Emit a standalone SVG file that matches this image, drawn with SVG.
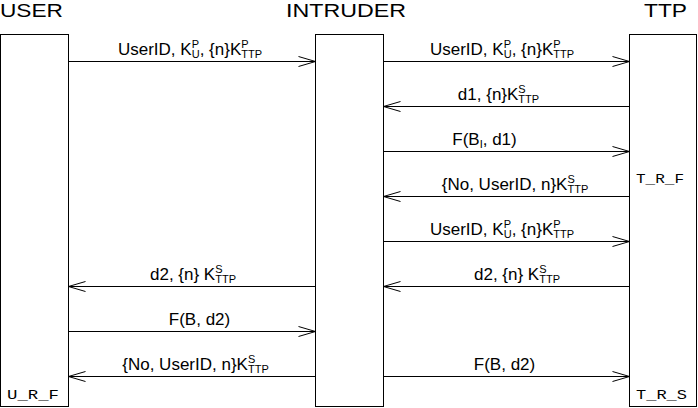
<svg xmlns="http://www.w3.org/2000/svg" width="698" height="408" viewBox="0 0 698 408">
<style>
.box{fill:#fff;stroke:#000;stroke-width:1}
.title{font-family:"Liberation Sans",Arial,sans-serif;font-size:18.5px;fill:#000}
.lbl{font-family:"Liberation Sans",Arial,sans-serif;font-size:17px;fill:#000;text-anchor:middle}
.s{font-size:11px}
.mono{font-family:"Liberation Mono","Courier New",monospace;font-size:12px;fill:#000}
.msg{stroke:#000;stroke-width:1;fill:none;marker-end:url(#ah)}
</style>
<defs>
<marker id="ah" markerUnits="userSpaceOnUse" markerWidth="20" markerHeight="12" refX="17" refY="6" orient="auto" overflow="visible">
<path d="M0,1 L17,6 L0,11" fill="none" stroke="#000" stroke-width="1"/>
</marker>
</defs>
<rect width="698" height="408" fill="#fff"/>
<g id="user">
<text class="title" x="0" y="17" textLength="63" lengthAdjust="spacingAndGlyphs">USER</text>
<rect class="box" x="0.5" y="34.5" width="68" height="372"/>
<text class="mono" x="7" y="399" textLength="52" lengthAdjust="spacingAndGlyphs">U_R_F</text>
</g>
<g id="intruder">
<text class="title" x="286" y="17" textLength="120" lengthAdjust="spacingAndGlyphs">INTRUDER</text>
<rect class="box" x="315.5" y="34.5" width="68" height="372"/>
</g>
<g id="ttp">
<text class="title" x="644" y="17" textLength="43" lengthAdjust="spacingAndGlyphs">TTP</text>
<rect class="box" x="629.5" y="34.5" width="67" height="372"/>
<text class="mono" x="636" y="183" textLength="48" lengthAdjust="spacingAndGlyphs">T_R_F</text>
<text class="mono" x="636" y="399" textLength="51" lengthAdjust="spacingAndGlyphs">T_R_S</text>
</g>
<g id="connectors">
<line class="msg" x1="68.5" y1="61.5" x2="315.5" y2="61.5"/>
<line class="msg" x1="383.5" y1="61.5" x2="629.5" y2="61.5"/>
<line class="msg" x1="629.5" y1="106.5" x2="383.5" y2="106.5"/>
<line class="msg" x1="383.5" y1="151.5" x2="629.5" y2="151.5"/>
<line class="msg" x1="629.5" y1="196.5" x2="383.5" y2="196.5"/>
<line class="msg" x1="383.5" y1="241.5" x2="629.5" y2="241.5"/>
<line class="msg" x1="629.5" y1="286.5" x2="383.5" y2="286.5"/>
<line class="msg" x1="315.5" y1="286.5" x2="68.5" y2="286.5"/>
<line class="msg" x1="68.5" y1="331.5" x2="315.5" y2="331.5"/>
<line class="msg" x1="315.5" y1="376.5" x2="68.5" y2="376.5"/>
<line class="msg" x1="383.5" y1="376.5" x2="629.5" y2="376.5"/>
</g>
<g id="labels">
<text class="lbl" x="190" y="55">UserID, K<tspan class="s" dy="-7">P</tspan><tspan class="s" dx="-7.34" dy="10">U</tspan><tspan dy="-3">, {n}K</tspan><tspan class="s" dy="-7">P</tspan><tspan class="s" dx="-7.34" dy="10">TTP</tspan></text>
<text class="lbl" x="502" y="55">UserID, K<tspan class="s" dy="-7">P</tspan><tspan class="s" dx="-7.34" dy="10">U</tspan><tspan dy="-3">, {n}K</tspan><tspan class="s" dy="-7">P</tspan><tspan class="s" dx="-7.34" dy="10">TTP</tspan></text>
<text class="lbl" x="498.5" y="100">d1, {n}K<tspan class="s" dy="-7">S</tspan><tspan class="s" dx="-7.34" dy="10">TTP</tspan></text>
<text class="lbl" x="484.5" y="145">F(B<tspan class="s" dy="3">I</tspan><tspan dy="-3">, d1)</tspan></text>
<text class="lbl" x="515" y="190">{No, UserID, n}K<tspan class="s" dy="-7">S</tspan><tspan class="s" dx="-7.34" dy="10">TTP</tspan></text>
<text class="lbl" x="502" y="235">UserID, K<tspan class="s" dy="-7">P</tspan><tspan class="s" dx="-7.34" dy="10">U</tspan><tspan dy="-3">, {n}K</tspan><tspan class="s" dy="-7">P</tspan><tspan class="s" dx="-7.34" dy="10">TTP</tspan></text>
<text class="lbl" x="517" y="280">d2, {n} K<tspan class="s" dy="-7">S</tspan><tspan class="s" dx="-7.34" dy="10">TTP</tspan></text>
<text class="lbl" x="193" y="280">d2, {n} K<tspan class="s" dy="-7">S</tspan><tspan class="s" dx="-7.34" dy="10">TTP</tspan></text>
<text class="lbl" x="199.5" y="325">F(B, d2)</text>
<text class="lbl" x="195.5" y="370">{No, UserID, n}K<tspan class="s" dy="-7">S</tspan><tspan class="s" dx="-7.34" dy="10">TTP</tspan></text>
<text class="lbl" x="504.5" y="370">F(B, d2)</text>
</g>
</svg>
